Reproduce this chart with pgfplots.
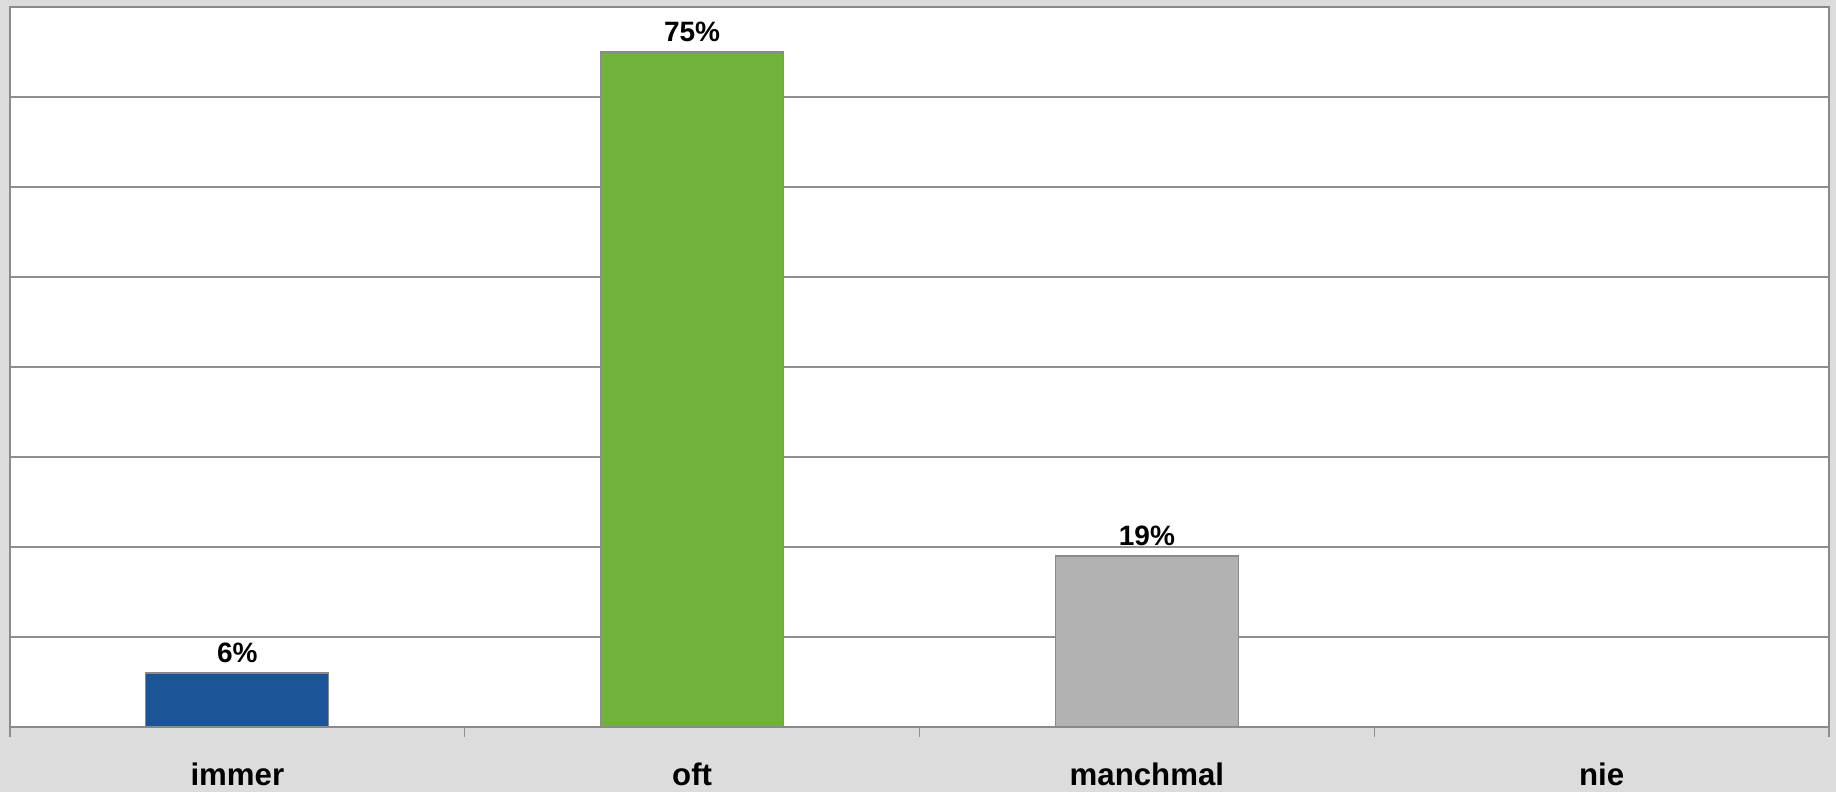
\documentclass[border=0pt]{standalone}
\usepackage{pgfplots}
\pgfplotsset{compat=1.18}
\usepackage{fontspec}
\setmainfont{Liberation Sans}
\definecolor{bg}{HTML}{DCDCDC}
\definecolor{gridgray}{HTML}{8E8E8E}
\definecolor{edgegray}{HTML}{8A8A8A}
\definecolor{barblue}{HTML}{1B5597}
\definecolor{bargreen}{HTML}{70B23C}
\definecolor{bargray}{HTML}{B2B2B2}
\begin{document}
\begin{tikzpicture}
\fill[bg] (0,0) rectangle (918pt,396pt);
\begin{axis}[
  at={(5pt,32.5pt)}, anchor=south west,
  width=909.5pt, height=360pt, scale only axis,
  axis background/.style={fill=white},
  xmin=-0.5, xmax=3.5, ymin=0, ymax=80,
  ytick={0,10,...,80}, yticklabels={},
  ymajorgrids, grid style={gridgray, line width=0.7pt},
  major y tick style={draw=none},
  xtick={0,1,2,3},
  xticklabels={immer,oft,manchmal,nie},
  major x tick style={draw=none},
  minor xtick={-0.5,0.5,1.5,2.5,3.5},
  minor x tick style={gridgray, line width=0.7pt},
  minor tick length=5pt,
  tick align=outside, tick pos=bottom,
  x tick label style={font=\fontsize{15.6}{18}\selectfont\bfseries, yshift=-10pt},
  axis line style={edgegray, line width=1pt},
  ybar, bar width=91.5pt, bar shift=0pt,
  nodes near coords={\pgfmathprintnumber{\pgfplotspointmeta}\%},
  nodes near coords style={font=\fontsize{14}{16}\selectfont\bfseries, text=black, inner sep=0pt, anchor=south, yshift=5pt},
  /pgf/number format/assume math mode=true,
]
\addplot[fill=barblue, draw=edgegray, line width=0.6pt] coordinates {(0,6)};
\addplot[fill=bargreen, draw=edgegray, line width=0.6pt] coordinates {(1,75)};
\addplot[fill=bargray, draw=edgegray, line width=0.6pt] coordinates {(2,19)};
\end{axis}
\pgfresetboundingbox
\path[use as bounding box] (0,0) rectangle (918pt,396pt);
\end{tikzpicture}
\end{document}
